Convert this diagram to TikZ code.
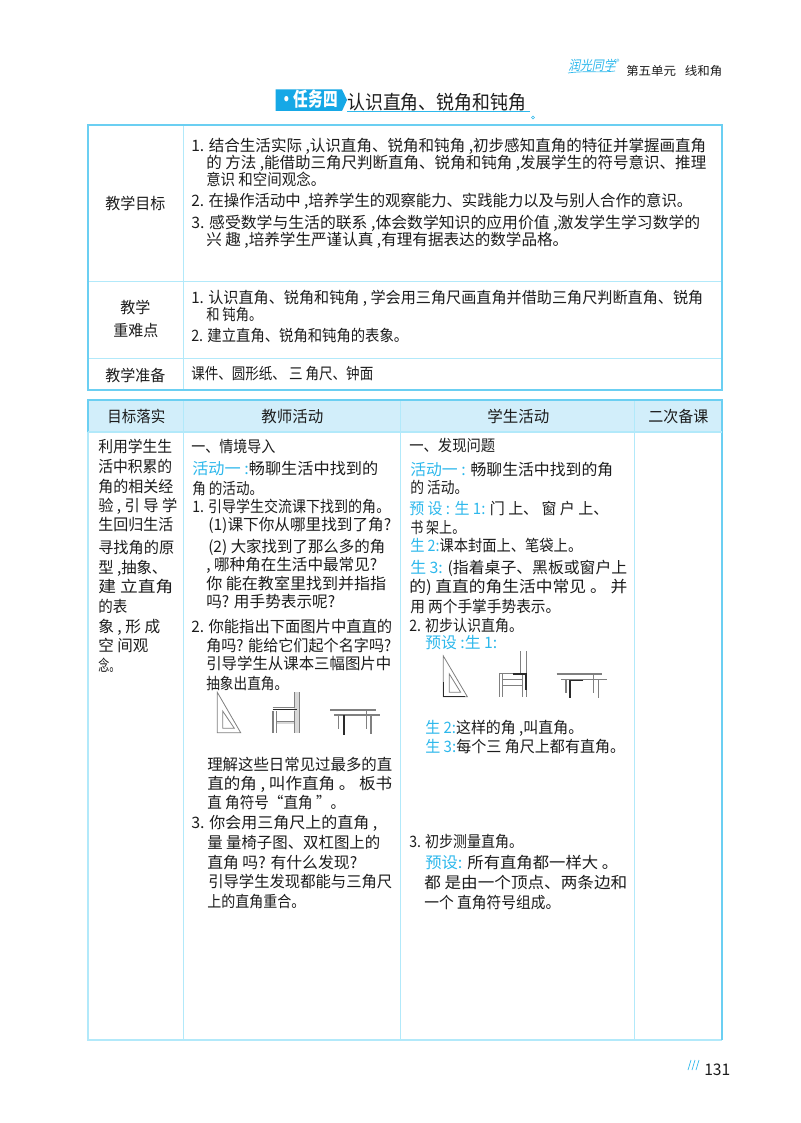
\documentclass[tikz,border=0pt]{standalone}
\usepackage{graphicx}
\usepackage{fontspec}
\setmainfont{Noto Sans CJK SC}
\definecolor{ink}{HTML}{1C1C1C}
\definecolor{bl}{HTML}{2DB8EC}
\definecolor{outerb}{HTML}{6BCFF2}
\definecolor{innerb}{HTML}{B2E9FA}
\definecolor{headf}{HTML}{D2EEFA}
\definecolor{bann}{HTML}{16A8E6}
\definecolor{gline}{HTML}{808080}
\definecolor{gband}{HTML}{D8D8D8}
\definecolor{dline}{HTML}{2A2A2A}
\newcounter{ln}
\newlength{\tlw}
\newcommand{\B}[1]{{\color{bl}#1}}
\newcommand{\tl}[4]{\stepcounter{ln}\pgfmathsetlength{\tlw}{(#2-#1)*0.75}%
  \node[txt] (t\arabic{ln}) at (#1,#3+5.8) {\resizebox{\tlw}{\height}{#4}};}
\tikzset{
  txt/.style={anchor=base west,inner sep=0pt,text=ink,font=\fontsize{11.8}{13}\selectfont},
  outerl/.style={draw=outerb,line width=1.2pt},
  innerl/.style={draw=innerb,line width=0.7pt},
  gl/.style={draw=gline,line width=0.6pt},
  dl/.style={draw=dline,line width=0.95pt},
}
\begin{document}
\begin{tikzpicture}[x=0.75pt,y=-0.75pt]
\useasboundingbox (0,0) rectangle (800,1123);
\fill[white] (0,0) rectangle (800,1123);
% running head
\node[anchor=base west,inner sep=0pt,text=bl,font=\fontsize{10}{10}\selectfont,xslant=0.2] (logo) at (568,71) {\resizebox{35.5pt}{\height}{润光同学}};
\node[anchor=center,inner sep=0pt,text=bl,font=\fontsize{5}{5}\selectfont] (logor) at (618,61.5) {®};
\draw[bl,line width=0.5pt] (568,73) .. controls (585,70.5) and (600,73) .. (615,71);
\node[anchor=base west,inner sep=0pt,text=ink,font=\fontsize{9}{10}\selectfont] (unit) at (626,75.5) {\resizebox{72pt}{\height}{第五单元\hspace{0.7em}线和角}};
% title
\fill[bann] (275.7,89.5) -- (342,89.5) -- (347,100) -- (342,111) -- (275.7,111) -- cycle;
\node[anchor=base west,inner sep=0pt,text=white,font=\fontsize{14.5}{15}\bfseries\selectfont] (task) at (279,106.5) {\resizebox{44pt}{\height}{·任务四}};
\node[anchor=base west,inner sep=0pt,text=ink,font=\fontsize{14.5}{15}\selectfont] (title) at (347,110) {\resizebox{134pt}{\height}{认识直角、锐角和钝角}};
\draw[bl,line width=0.8pt] (347,111.8) -- (530,111.8);
\draw[bl,line width=0.5pt] (533,117.5) circle (1.5);
% table 1
\draw[innerl] (183,125) -- (183,390) (88,281) -- (722,281) (88,358) -- (722,358);
\draw[outerl] (88,125) rectangle (722,390);
% table 2
\fill[headf] (88,400) rectangle (722,432);
\draw[innerl] (183,400) -- (183,1040) (400,400) -- (400,1040) (634,400) -- (634,1040);
\draw[innerl,line width=1pt] (88,432) -- (88,1040) -- (722,1040);
\draw[outerl] (88,432) -- (88,400) -- (722,400) -- (722,1040);
\draw[innerb,line width=1pt] (88,432) -- (722,432);
% table 1 text
\tl{105}{165}{204}{教学目标}
\tl{191}{706}{146}{1. 结合生活实际 ,认识直角、锐角和钝角 ,初步感知直角的特征并掌握画直角}
\tl{206}{706}{163}{的 方法 ,能借助三角尺判断直角、锐角和钝角 ,发展学生的符号意识、推理}
\tl{206}{325}{180}{意识 和空间观念。}
\tl{191}{692}{201}{2. 在操作活动中 ,培养学生的观察能力、实践能力以及与别人合作的意识。}
\tl{191}{700}{223}{3. 感受数学与生活的联系 ,体会数学知识的应用价值 ,激发学生学习数学的}
\tl{206}{568}{240}{兴 趣 ,培养学生严谨认真 ,有理有据表达的数学品格。}
\tl{120}{150}{308}{教学}
\tl{113}{158}{331}{重难点}
\tl{191}{703}{298}{1. 认识直角、锐角和钝角 , 学会用三角尺画直角并借助三角尺判断直角、锐角}
\tl{206}{262}{315}{和 钝角。}
\tl{191}{408}{336}{2. 建立直角、锐角和钝角的表象。}
\tl{105}{165}{376}{教学准备}
\tl{191}{373}{374}{课件、圆形纸、 三 角尺、钟面}
% table 2 header
\tl{107}{165}{417}{目标落实}
\tl{261}{323}{417}{教师活动}
\tl{487}{549}{417}{学生活动}
\tl{648}{708}{417}{二次备课}
% column 1
\tl{98}{172}{447}{利用学生生}
\tl{98}{172}{467}{活中积累的}
\tl{98}{173}{487}{角的相关经}
\tl{98}{177}{506}{验 , 引 导 学}
\tl{98}{173}{525}{生回归生活}
\tl{98}{174}{548}{寻找角的原}
\tl{98}{167}{568}{型 ,抽象、}
\tl{98}{173}{587}{建 立直角}
\tl{98}{127}{607}{的表}
\tl{98}{160}{627}{象 , 形 成}
\tl{98}{148}{646}{空 间观}
\tl{98}{120}{666}{念。}
% column 2
\tl{191}{275}{447}{一、情境导入}
\tl{192}{378}{469}{\B{活动一 :}畅聊生活中找到的}
\tl{192}{263}{489}{角 的活动。}
\tl{192}{390}{507}{1. 引导学生交流课下找到的角。}
\tl{208}{391}{525}{(1)课下你从哪里找到了角?}
\tl{208}{385}{547}{(2) 大家找到了那么多的角}
\tl{206}{377}{565}{, 哪种角在生活中最常见?}
\tl{206}{386}{584}{你 能在教室里找到并指指}
\tl{206}{335}{602}{吗? 用手势表示呢?}
\tl{191}{392}{627}{2. 你能指出下面图片中直直的}
\tl{206}{391}{646}{角吗? 能给它们起个名字吗?}
\tl{206}{391}{664}{引导学生从课本三幅图片中}
\tl{206}{288}{684}{抽象出直角。}
\tl{207}{392}{765}{理解这些日常见过最多的直}
\tl{207}{392}{784}{直的角 , 叫作直角 。 板书}
\tl{207}{345}{803}{直 角符号“直角 ”。}
\tl{191}{377}{823}{3. 你会用三角尺上的直角 ,}
\tl{207}{380}{843}{量 量椅子图、双杠图上的}
\tl{207}{357}{863}{直角 吗? 有什么发现?}
\tl{208}{392}{882}{引导学生发现都能与三角尺}
\tl{207}{305}{902}{上的直角重合。}
% column 3
\tl{409}{495}{446}{一、发现问题}
\tl{410}{613}{470}{\B{活动一 :} 畅聊生活中找到的角}
\tl{410}{468}{488}{的 活动。}
\tl{409}{608}{509}{\B{预 设 : 生 1:} 门 上、 窗 户 上、}
\tl{410}{465}{528}{书 架上。}
\tl{410}{582}{546}{\B{生 2:}课本封面上、笔袋上。}
\tl{410}{627}{568}{\B{生 3:} (指着桌子、黑板或窗户上}
\tl{409}{627}{587}{的) 直直的角生活中常见 。 并}
\tl{410}{560}{607}{用 两个手掌手势表示。}
\tl{409}{523}{626}{2. 初步认识直角。}
\tl{425}{497}{643}{\B{预设 :生 1:}}
\tl{425}{583}{728}{\B{生 2:}这样的角 ,叫直角。}
\tl{425}{625}{747}{\B{生 3:}每个三 角尺上都有直角。}
\tl{409}{523}{842}{3. 初步测量直角。}
\tl{425}{618}{863}{\B{预设:} 所有直角都一样大 。}
\tl{424}{627}{883}{都 是由一个顶点、两条边和}
\tl{424}{560}{903}{一个 直角符号组成。}
% teacher figures
\begin{scope}[shift={(200,685)},x=0.25pt,y=-0.25pt]
  \draw[gl] (52,22) -- (52,143) -- (122,143) -- cycle;
  \draw[gl] (68,78) -- (68,130) -- (103,130) -- cycle;
  \fill[gband] (283,22) rectangle (298,143);
  \draw[gl] (283,22) -- (283,70) (298,22) -- (298,143);
  \fill[gband] (228,108) rectangle (283,118);
  \draw[gline,line width=1.5pt] (218,143) -- (218,78);
  \draw[gl] (228,78) -- (228,143) (228,108) -- (283,108) (283,78) -- (283,143);
  \draw[dl] (218,74) -- (290,74);
  \draw[gl] (218,68) -- (283,68);
  \draw[gline,line width=1.2pt] (390,75) -- (527,75) (403,90) -- (540,90);
  \draw[gline,line width=1.1pt] (416,90) -- (416,132) (500,75) -- (500,132) (513,90) -- (513,148);
  \draw[dl] (432,90) -- (432,150);
\end{scope}
% student figures
\begin{scope}[shift={(430,650)},x=0.25pt,y=-0.25pt]
  \draw[gl] (40,18) -- (40,140) -- (112,140) -- cycle;
  \draw[gl] (58,72) -- (58,127) -- (92,127) -- cycle;
  \draw[dl] (40,97) -- (40,140) -- (105,140);
  \draw[gl] (270,3) -- (270,70) (288,3) -- (288,140);
  \draw[gl] (207,140) -- (207,70) -- (288,70) (217,70) -- (217,140) (278,70) -- (278,140);
  \draw[gl] (217,88) -- (278,88) (217,105) -- (278,105);
  \draw[dl] (248,72) -- (288,72) -- (288,120);
  \draw[gline,line width=1.2pt] (380,72) -- (517,72) (393,88) -- (530,88);
  \draw[gline,line width=1.1pt] (408,88) -- (408,130) (490,72) -- (490,130) (505,88) -- (505,145);
  \draw[dl] (460,91) -- (420,91) -- (420,145);
\end{scope}
% page number
\draw[bl,line width=0.5pt] (688,1070) -- (691,1060) (692,1070) -- (695,1060) (696,1070) -- (699,1060);
\node[anchor=base west,inner sep=0pt,text=ink,font=\fontsize{12}{14}\selectfont] (pageno) at (704,1075) {\resizebox{19.5pt}{\height}{131}};
\end{tikzpicture}
\end{document}
